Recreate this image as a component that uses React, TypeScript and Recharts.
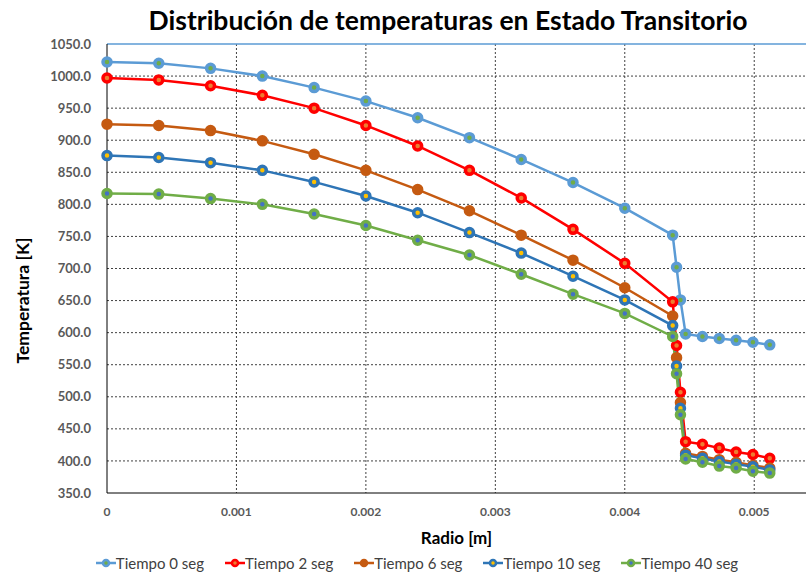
import React from 'react';
import { LineChart, Line, XAxis, YAxis, CartesianGrid, Legend, ReferenceLine } from 'recharts';

// radial positions [m]
const radio = [
  0, 0.0004, 0.0008, 0.0012, 0.0016, 0.002, 0.0024, 0.0028, 0.0032, 0.0036, 0.004,
  0.00437, 0.0044, 0.00443, 0.00447, 0.0046, 0.00473, 0.00486, 0.00499, 0.00512,
];

// temperatures [K]
const t0 = [1022, 1020, 1012, 1000, 982, 961, 935, 904, 870, 834, 794, 752, 702, 651, 598, 594, 591, 588, 585, 581];
const t2 = [997, 994, 985, 970, 950, 923, 891, 853, 810, 761, 708, 648, 580, 507, 430, 426, 420, 414, 410, 404];
const t6 = [925, 923, 915, 899, 878, 853, 823, 790, 752, 713, 670, 626, 561, 491, 412, 407, 402, 398, 393, 389];
const t10 = [876, 873, 865, 853, 835, 813, 787, 756, 724, 688, 651, 611, 548, 482, 409, 404, 399, 395, 391, 386];
const t40 = [817, 816, 809, 800, 785, 767, 744, 721, 691, 660, 630, 594, 536, 472, 403, 398, 392, 389, 384, 381];

const xTicks = [0, 0.001, 0.002, 0.003, 0.004, 0.005];
const yTicks = [350, 400, 450, 500, 550, 600, 650, 700, 750, 800, 850, 900, 950, 1000, 1050];

const series = [
  { key: 't0', name: 'Tiempo 0 seg', color: '#5b9bd5', inner: '#70ad47' },
  { key: 't2', name: 'Tiempo 2 seg', color: '#ff0000', inner: '#ed7d31' },
  { key: 't6', name: 'Tiempo 6 seg', color: '#c55a11', inner: '#c55a11' },
  { key: 't10', name: 'Tiempo 10 seg', color: '#2e75b6', inner: '#ffc000' },
  { key: 't40', name: 'Tiempo 40 seg', color: '#70ad47', inner: '#4472c4' },
];

const data = radio.map((r, i) => ({ r, t0: t0[i], t2: t2[i], t6: t6[i], t10: t10[i], t40: t40[i] }));

const font = 'Lato, "Open Sans", sans-serif';

const LegendContent = () => (
  <div style={{ display: 'flex', justifyContent: 'center', gap: 21, paddingTop: 6, paddingLeft: 20, fontFamily: font, fontSize: 15, color: '#404040' }}>
    {series.map(s => (
      <div key={s.key} style={{ display: 'flex', alignItems: 'center' }}>
        <svg width={20} height={12}>
          <line x1={0} y1={6} x2={20} y2={6} stroke={s.color} strokeWidth={2.5} />
          <circle cx={10} cy={6} r={3} fill={s.inner} stroke={s.color} strokeWidth={2.5} />
        </svg>
        <span>{s.name}</span>
      </div>
    ))}
  </div>
);

const YLabel = ({ viewBox }: any) => {
  const cy = viewBox.y + viewBox.height / 2 + 32;
  return (
    <text x={22} y={cy} transform={`rotate(-90, 22, ${cy})`} textAnchor="middle" dominantBaseline="central"
      fill="#000" fontSize={17.5} fontWeight="bold" fontFamily={font}>
      Temperatura [K]
    </text>
  );
};

const App: React.FC = () => {
  return (
    <div style={{ position: 'absolute', left: 0, top: 0, width: 806, height: 574, background: '#fff' }}>
      <div style={{ position: 'absolute', top: 4, left: 45, width: 806, textAlign: 'center', fontFamily: font, fontWeight: 'bold', fontSize: 26.5, color: '#000' }}>
        Distribución de temperaturas en Estado Transitorio
      </div>
      <LineChart width={806} height={574} data={data} margin={{ top: 44, right: 0, left: 8, bottom: 0 }}>
        <CartesianGrid stroke="#404040" strokeDasharray="2 2" horizontalValues={yTicks.slice(1, -1)} verticalValues={xTicks.slice(1)} />
        <XAxis
          dataKey="r"
          type="number"
          domain={[0, 0.0054]}
          ticks={xTicks}
          tickFormatter={(v: number) => (v === 0 ? '0' : String(v))}
          stroke="#000"
          tickLine={false}
          tickMargin={8}
          height={55}
          tick={{ fill: '#595959', fontSize: 12, fontWeight: 'bold', fontFamily: font }}
          label={{ value: 'Radio [m]', position: 'insideBottom', offset: 4, fill: '#000', fontSize: 17, fontWeight: 'bold', fontFamily: font }}
        />
        <YAxis
          type="number"
          domain={[350, 1050]}
          ticks={yTicks}
          tickFormatter={(v: number) => v.toFixed(1)}
          stroke="#000"
          tickLine={false}
          tickMargin={10}
          width={99}
          tick={{ fill: '#595959', fontSize: 13, fontWeight: 'bold', fontFamily: font }}
          label={<YLabel />}
        />
        <ReferenceLine y={1050} stroke="#5b9bd5" strokeWidth={1.5} />
        <Legend verticalAlign="bottom" height={26} content={<LegendContent />} />
        {series.map(s => (
          <Line
            key={s.key}
            dataKey={s.key}
            name={s.name}
            stroke={s.color}
            strokeWidth={2.5}
            dot={{ r: 4, fill: s.inner, stroke: s.color, strokeWidth: 3.5 }}
            isAnimationActive={false}
          />
        ))}
      </LineChart>
    </div>
  );
};

export default App;
